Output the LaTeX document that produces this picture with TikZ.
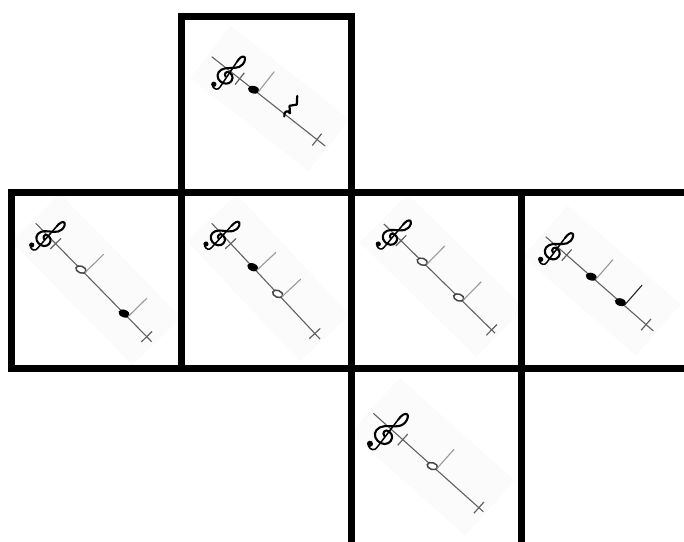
\documentclass[tikz,border=0pt]{standalone}
\tikzset{
  gridl/.style={line width=7pt, draw=black, line join=miter},
  staffl/.style={line width=1.1pt, draw=black!62},
  tickl/.style={line width=1.2pt, draw=black!62},
  faint/.style={fill=black!1.5},
  stemg/.style={line width=1.1pt, draw=black!40},
  stemk/.style={line width=1.1pt, draw=black!85},
  gclef/.pic={
    \draw[line width=2.1pt, line cap=round, line join=round]
      (1,-0.5) .. controls (-2.5,0) and (-3,5) .. (1.5,5.5)
      .. controls (7,6) and (9.5,1) .. (8,-3)
      .. controls (6.5,-7.5) and (0,-9) .. (-4,-7)
      .. controls (-9,-4.5) and (-9,1.5) .. (-5,6)
      .. controls (-1,10.5) and (7,14) .. (7,21)
      .. controls (7,25) and (5,28) .. (3.5,28)
      .. controls (1,28) and (0,24) .. (0.5,19);
    \draw[line width=1.5pt, line cap=round]
      (0.5,19) -- (3,-13)
      .. controls (3.5,-16.5) and (0,-18.5) .. (-3.5,-17);
    \fill (-4,-14.5) circle (2.8);
  }
}
\newcommand{\qnote}[2]{%
  \fill[shift={(#1,0)}, rotate=25] (0,0) ellipse [x radius=5.8, y radius=3.8];
  \draw[#2] ({#1+5},1) -- ({#1+5},27);}
\newcommand{\hnote}[2]{%
  \draw[shift={(#1,0)}, rotate=25, line width=1.5pt, draw=black!72, fill=white] (0,0) ellipse [x radius=5.3, y radius=3.4];
  \draw[#2] ({#1+5},1) -- ({#1+5},27);}
\newcommand{\btick}[1]{\draw[tickl] (#1,-7.5) -- (#1,7.5);}
\begin{document}
\begin{tikzpicture}[x=1pt,y=-1pt]
\useasboundingbox (0,0) rectangle (684,541);
\fill[white] (0,0) rectangle (684,541);
\begin{scope}
\clip (0,0) rectangle (684,541);
% top cell
\begin{scope}[shift={(211.7,56.7)}, rotate=-38.2, y=1pt]
  \fill[faint] (-4,-30) rectangle (147,36);
  \draw[staffl] (0,0) -- (144.3,0);
  \pic[transform shape, scale=0.95] at (22.5,-6.6) {gclef};
  \btick{35.6} \btick{134}
  \qnote{53.4}{stemg}
  \draw[line width=2.2pt, line join=round, line cap=round]
    (91.5,22) -- (96.5,15) -- (91.5,9.5) -- (96.5,4)
    .. controls (92,5.5) and (90.5,1) .. (94,-2);
\end{scope}
% left cell
\begin{scope}[shift={(35.7,223.3)}, rotate=-45.6, y=1pt]
  \fill[faint] (-4,-30) rectangle (169,38);
  \draw[staffl] (0,0) -- (165.8,0);
  \pic[transform shape, scale=0.92] at (16.4,-4.7) {gclef};
  \btick{28.5} \btick{158.7}
  \hnote{64.7}{stemg}
  \qnote{126.3}{stemg}
\end{scope}
% second cell
\begin{scope}[shift={(211.7,223.3)}, rotate=-46.9, y=1pt]
  \fill[faint] (-4,-30) rectangle (161,38);
  \draw[staffl] (0,0) -- (158.5,0);
  \pic[transform shape, scale=0.92] at (14.9,-5) {gclef};
  \btick{27.8} \btick{150.9}
  \qnote{60.1}{stemg}
  \hnote{96.6}{stemg}
\end{scope}
% third cell
\begin{scope}[shift={(386.7,226.7)}, rotate=-44.5, y=1pt]
  \fill[faint] (-8,-30) rectangle (155,38);
  \draw[staffl] (-4,0) -- (152,0);
  \pic[transform shape, scale=0.92] at (9.8,-4.9) {gclef};
  \btick{20} \btick{147.2}
  \hnote{49.9}{stemg}
  \hnote{101}{stemg}
\end{scope}
% right cell
\begin{scope}[shift={(545.7,236.7)}, rotate=-41.2, y=1pt]
  \fill[faint] (-4,-30) rectangle (146,38);
  \draw[staffl] (0,0) -- (143.1,0);
  \pic[transform shape, scale=0.95] at (14.9,-6.6) {gclef};
  \btick{27.9} \btick{133.4}
  \qnote{60.7}{stemg}
  \qnote{99.4}{stemk}
\end{scope}
% bottom cell
\begin{scope}[shift={(373.3,413.3)}, rotate=-41.8, y=1pt]
  \fill[faint] (-4,-30) rectangle (150,44);
  \draw[staffl] (0,0) -- (147.6,0);
  \pic[transform shape, scale=1.1] at (22.2,-9) {gclef};
  \btick{39.5} \btick{141.6}
  \hnote{79.2}{stemg}
\end{scope}
% grid
\draw[gridl] (181.5,16) rectangle (351.5,192);
\draw[gridl] (11.5,192) rectangle (181.5,368);
\draw[gridl] (181.5,192) rectangle (351.5,368);
\draw[gridl] (351.5,192) rectangle (521.5,368);
\draw[gridl] (521.5,192) rectangle (700,368);
\draw[gridl] (351.5,368) rectangle (521.5,560);
\end{scope}
\end{tikzpicture}
\end{document}
